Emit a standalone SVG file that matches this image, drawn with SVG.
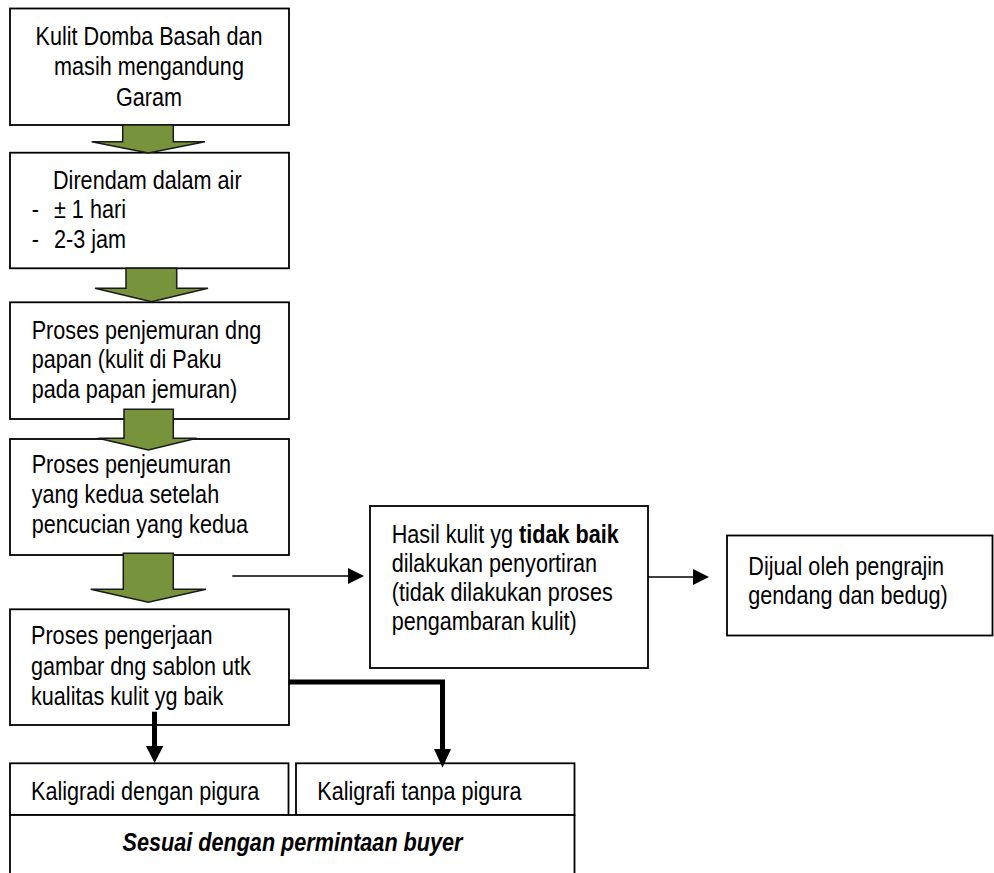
<svg xmlns="http://www.w3.org/2000/svg" width="994" height="873" viewBox="0 0 994 873">
<style>
.box{fill:#ffffff;stroke:#000000;stroke-width:1.8}
.t{font-family:"Liberation Sans",Arial,sans-serif;font-size:25px;fill:#000000}
.g{fill:#77933C;stroke:#1a1a1a;stroke-width:1.5;stroke-linejoin:miter}
.thin{stroke:#000000;stroke-width:1.6;fill:none}
.thick{stroke:#000000;stroke-width:5;fill:none}
</style>

<g id="node1">
<rect class="box" x="10" y="8.5" width="279" height="116.5"/>
<text class="t" text-anchor="middle" transform="translate(149,45) scale(0.865,1)"><tspan x="0" y="0">Kulit Domba Basah dan</tspan><tspan x="0" dy="30.5">masih mengandung</tspan><tspan x="0" dy="30.5">Garam</tspan></text>
</g>

<g id="node2">
<rect class="box" x="10" y="152.7" width="279" height="115.6"/>
<text class="t" transform="translate(53,188.5) scale(0.865,1)">Direndam dalam air</text>
<text class="t" transform="translate(31.7,218.3) scale(0.865,1)">-</text>
<text class="t" transform="translate(54,218.3) scale(0.865,1)">± 1 hari</text>
<text class="t" transform="translate(31.7,248.3) scale(0.865,1)">-</text>
<text class="t" transform="translate(54,248.3) scale(0.865,1)">2-3 jam</text>
</g>

<g id="node3">
<rect class="box" x="10" y="302.3" width="279" height="116.7"/>
<text class="t" transform="translate(31.7,338.5) scale(0.865,1)"><tspan x="0" y="0">Proses penjemuran dng</tspan><tspan x="0" dy="30">papan (kulit di Paku</tspan><tspan x="0" dy="30">pada papan jemuran)</tspan></text>
</g>

<g id="node4">
<rect class="box" x="10" y="439" width="279" height="116"/>
<text class="t" transform="translate(31.7,473.3) scale(0.865,1)"><tspan x="0" y="0">Proses penjeumuran</tspan><tspan x="0" dy="30">yang kedua setelah</tspan><tspan x="0" dy="30">pencucian yang kedua</tspan></text>
</g>

<g id="node5">
<rect class="box" x="10" y="609.3" width="279" height="115.7"/>
<text class="t" transform="translate(31,644.3) scale(0.865,1)"><tspan x="0" y="0">Proses pengerjaan</tspan><tspan x="0" dy="30.3">gambar dng sablon utk</tspan><tspan x="0" dy="30.5">kualitas kulit yg baik</tspan></text>
</g>

<g id="node6">
<rect class="box" x="370" y="506" width="278" height="162"/>
<text class="t" transform="translate(391.7,542.7) scale(0.865,1)"><tspan x="0" y="0">Hasil kulit yg <tspan font-weight="bold">tidak baik</tspan></tspan><tspan x="0" dy="29.2">dilakukan penyortiran</tspan><tspan x="0" dy="29.2">(tidak dilakukan proses</tspan><tspan x="0" dy="29.2">pengambaran kulit)</tspan></text>
</g>

<g id="node7">
<rect class="box" x="727" y="535.5" width="265.5" height="100"/>
<text class="t" transform="translate(748.3,575) scale(0.865,1)"><tspan x="0" y="0">Dijual oleh pengrajin</tspan><tspan x="0" dy="29.5">gendang dan bedug)</tspan></text>
</g>

<g id="node8">
<rect class="box" x="10" y="763.3" width="278.5" height="51.7"/>
<text class="t" transform="translate(31,800) scale(0.865,1)">Kaligradi dengan pigura</text>
</g>

<g id="node9">
<rect class="box" x="296" y="763.3" width="278.5" height="51.7"/>
<text class="t" transform="translate(317.3,799.5) scale(0.865,1)">Kaligrafi tanpa pigura</text>
</g>

<g id="node10">
<rect class="box" x="10" y="815" width="564.5" height="75"/>
<text class="t" font-weight="bold" font-style="italic" text-anchor="middle" transform="translate(292.5,850.5) scale(0.865,1)">Sesuai dengan permintaan buyer</text>
</g>

<g id="connectors">
<polygon class="g" points="122.7,125 173.3,125 173.3,141.7 205,141.7 148.3,153 91.7,141.7 122.7,141.7"/>
<polygon class="g" points="126,268.3 176.7,268.3 176.7,288.3 208,288.3 151.5,301.7 95,288.3 126,288.3"/>
<polygon class="g" points="124,409.3 173.3,409.3 173.3,438.3 196.7,438.3 148.3,450 98.3,438.3 124,438.3"/>
<polygon class="g" points="123.3,553.3 173.3,553.3 173.3,589.3 206,589.3 148.3,602.3 90.7,589.3 123.3,589.3"/>
<line class="thin" x1="232.3" y1="576" x2="348" y2="576"/>
<polygon points="348,568 364,576 348,584" fill="#000"/>
<line class="thin" x1="648" y1="577" x2="693" y2="577"/>
<polygon points="693,569 709,577 693,585" fill="#000"/>
<path class="thick" d="M288.7,682 H442.5 V750"/>
<polygon points="434,749 451,749 442.5,767.5" fill="#000"/>
<line class="thick" x1="154.5" y1="711.7" x2="154.5" y2="747"/>
<polygon points="146,746 163.3,746 154.6,763" fill="#000"/>
</g>
</svg>
